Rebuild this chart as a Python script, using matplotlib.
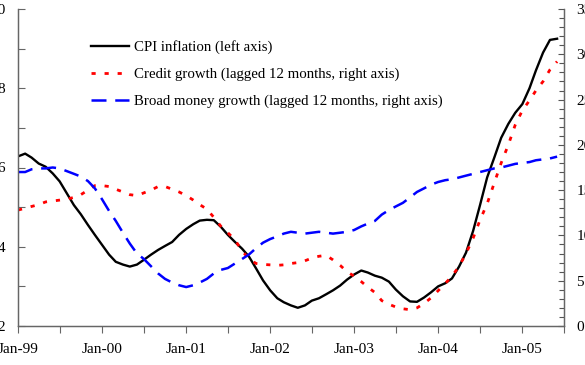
import matplotlib
matplotlib.use("Agg")
import matplotlib.pyplot as plt
import matplotlib.dates as mdates
from matplotlib.ticker import MultipleLocator
import pandas as pd

plt.rcParams['font.family'] = ['Liberation Serif', 'DejaVu Serif']

# monthly data, Jan-99 onwards
cpi = [6.28, 6.35, 6.25, 6.10, 6.02, 5.85, 5.65, 5.35, 5.05, 4.82, 4.55, 4.30,
       4.05, 3.80, 3.62, 3.55, 3.50, 3.55, 3.67, 3.80, 3.92, 4.02, 4.12, 4.30,
       4.45, 4.57, 4.66, 4.68, 4.67, 4.50, 4.30, 4.12, 3.95, 3.75, 3.45, 3.15,
       2.90, 2.70, 2.60, 2.52, 2.46, 2.52, 2.64, 2.70, 2.80, 2.90, 3.02, 3.17,
       3.30, 3.40, 3.35, 3.27, 3.22, 3.12, 2.92, 2.75, 2.62, 2.61, 2.72, 2.85,
       3.00, 3.08, 3.20, 3.50, 3.85, 4.40, 5.05, 5.75, 6.25, 6.75, 7.10, 7.38,
       7.60, 8.00, 8.45, 8.90, 9.22, 9.25]
credit = [12.8, 13.0, 13.2, 13.4, 13.7, 13.8, 13.9, 14.0, 14.2, 14.5, 15.0, 15.5,
          15.5, 15.4, 15.1, 14.8, 14.5, 14.4, 14.7, 15.0, 15.4, 15.4, 15.1, 14.8,
          14.4, 13.9, 13.4, 12.9, 12.0, 11.0, 10.3, 9.5, 8.3, 7.4, 6.9, 6.8,
          6.75, 6.7, 6.75, 6.9, 7.0, 7.2, 7.5, 7.7, 7.8, 7.3, 6.7, 6.0,
          5.5, 4.9, 4.3, 3.7, 2.8, 2.4, 2.1, 1.9, 1.8, 2.0, 2.5, 3.1,
          3.9, 4.7, 5.5, 6.6, 8.0, 9.7, 11.7, 13.5, 15.8, 18.0, 20.0, 22.2,
          23.8, 24.9, 26.0, 27.0, 28.3, 29.2]
money = [17.0, 17.0, 17.3, 17.4, 17.4, 17.5, 17.4, 17.1, 16.8, 16.5, 16.0, 15.2,
         14.0, 12.7, 11.6, 10.3, 9.1, 8.0, 7.4, 6.6, 5.8, 5.2, 4.8, 4.5,
         4.3, 4.5, 4.8, 5.2, 5.8, 6.2, 6.4, 6.9, 7.4, 7.9, 8.6, 9.2,
         9.6, 9.9, 10.2, 10.4, 10.3, 10.2, 10.3, 10.4, 10.3, 10.2, 10.3, 10.4,
         10.6, 11.0, 11.3, 11.6, 12.3, 12.8, 13.2, 13.6, 14.2, 14.8, 15.2, 15.6,
         15.9, 16.1, 16.2, 16.4, 16.6, 16.8, 17.0, 17.2, 17.4, 17.5, 17.7, 17.9,
         18.0, 18.1, 18.3, 18.4, 18.5, 18.7]
dates = pd.date_range("1999-01-01", periods=len(cpi), freq="MS")

fig = plt.figure(figsize=(5.85, 3.65), dpi=100)
ax = fig.add_axes([18 / 585, 39 / 365, 546 / 585, 317 / 365])
ax2 = ax.twinx()

l1, = ax.plot(dates, cpi, color='black', lw=1.7, label='CPI inflation (left axis)')
l2, = ax2.plot(dates, credit, color='red', lw=2.0, linestyle=(0, (1.5, 3.2)),
               label='Credit growth (lagged 12 months, right axis)')
l3, = ax2.plot(dates, money, color='blue', lw=1.8, linestyle=(0, (6, 3.5)),
               label='Broad money growth (lagged 12 months, right axis)')

ax.set_xlim(pd.Timestamp("1999-01-01"), pd.Timestamp("2005-07-01"))
ax.set_ylim(2, 10)
ax2.set_ylim(0, 35)

ax.xaxis.set_major_locator(mdates.YearLocator())
ax.xaxis.set_major_formatter(mdates.DateFormatter('%b-%y'))
ax.xaxis.set_minor_locator(mdates.MonthLocator(bymonth=7))
ax.tick_params(axis='x', which='both', direction='out', length=5, width=0.8,
               color='#666666', labelsize=11, pad=7)

ax.yaxis.set_major_locator(MultipleLocator(2))
ax.yaxis.set_minor_locator(MultipleLocator(1))
ax.tick_params(axis='y', which='both', direction='in', length=5, width=0.8,
               color='#666666', labelsize=11, pad=9)

ax2.yaxis.set_major_locator(MultipleLocator(5))
ax2.yaxis.set_minor_locator(MultipleLocator(1))
ax2.tick_params(axis='y', which='major', direction='in', length=4.5, width=0.8,
                color='#555555', labelsize=11, pad=8.8)
ax2.tick_params(axis='y', which='minor', direction='in', length=3.5, width=0.8,
                color='#555555')

for a in (ax, ax2):
    a.spines['top'].set_visible(False)
    for s in ('left', 'right', 'bottom'):
        a.spines[s].set_color('#666666')
        a.spines[s].set_linewidth(0.9)

ax2.legend(handles=[l1, l2, l3], loc='upper left', bbox_to_anchor=(84 / 585, 1 - 33 / 365),
           bbox_transform=fig.transFigure, frameon=False, fontsize=10.7,
           handlelength=2.55, handletextpad=0.3, labelspacing=0.9, borderpad=0)

fig.savefig("out.png", dpi=100)
